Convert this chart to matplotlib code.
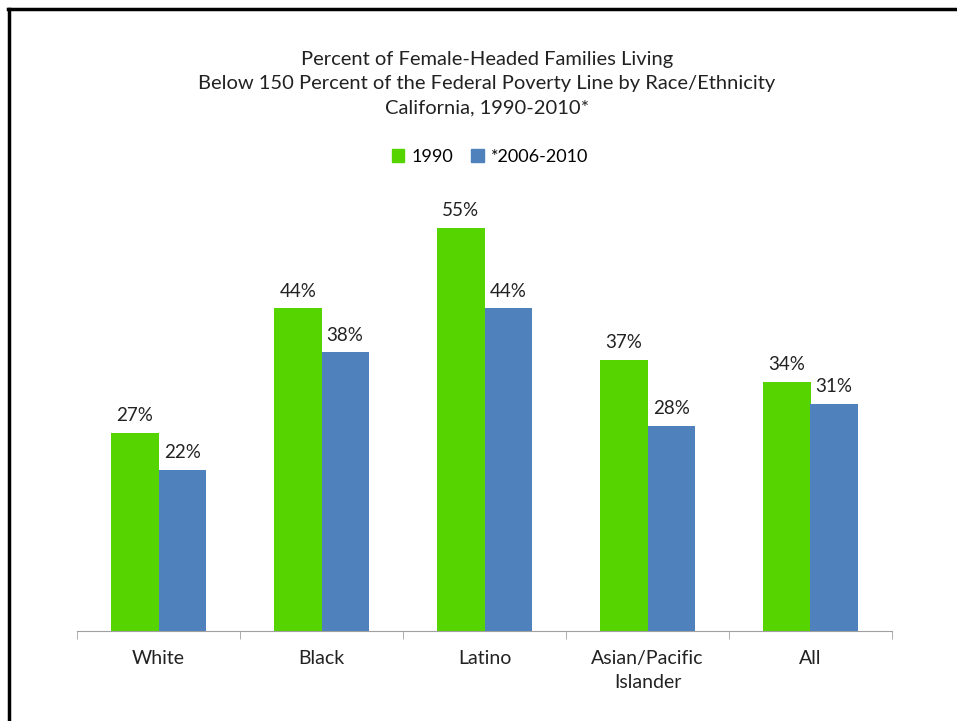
import matplotlib.pyplot as plt
import numpy as np
from matplotlib.lines import Line2D
from matplotlib.patches import Patch

# date
categories = ['White', 'Black', 'Latino', 'Asian/Pacific\nIslander', 'All']
values_1990 = [27, 44, 55, 37, 34]
values_2010 = [22, 38, 44, 28, 31]
series_names = ['1990', '*2006-2010']

green = '#55d400'
blue = '#4f81bd'
plt.rcParams['font.family'] = ['Lato', 'DejaVu Sans']

fig = plt.figure(figsize=(9.57, 7.21), dpi=100)
ax = fig.add_axes([77 / 957, 1 - 631 / 721, 815 / 957, 440 / 721])

x = np.arange(len(categories))
w = 0.29
ax.bar(x - w / 2, values_1990, w, color=green)
ax.bar(x + w / 2, values_2010, w, color=blue)

for xi, v in zip(x, values_1990):
    ax.text(xi - w / 2, v + 1.2, f'{v}%', ha='center', va='bottom', fontsize=13.5, color='#222222')
for xi, v in zip(x, values_2010):
    ax.text(xi + w / 2, v + 1.2, f'{v}%', ha='center', va='bottom', fontsize=13.5, color='#222222')

ax.set_xlim(-0.5, len(categories) - 0.5)
ax.set_ylim(0, 440 / 7.33)
ax.set_yticks([])
for s in ['top', 'right', 'left']:
    ax.spines[s].set_visible(False)
ax.spines['bottom'].set_color('#a0a0a0')

# tick-uri intre categorii
ax.set_xticks(np.arange(-0.5, len(categories)), minor=True)
ax.tick_params(axis='x', which='minor', length=6, color='#a0a0a0', direction='out')
ax.set_xticks(x)
ax.set_xticklabels(categories, fontsize=14, color='#222222', linespacing=1.5)
ax.tick_params(axis='x', which='major', length=0, pad=14)

fig.text(487 / 957, 1 - 84 / 721,
         'Percent of Female-Headed Families Living\n'
         'Below 150 Percent of the Federal Poverty Line by Race/Ethnicity\n'
         'California, 1990-2010*',
         ha='center', va='center', fontsize=14.5, color='#222222', linespacing=1.5)

handles = [Patch(color=green), Patch(color=blue)]
fig.legend(handles, series_names, loc='center', bbox_to_anchor=(490 / 957, 1 - 157 / 721),
           ncol=2, frameon=False, fontsize=13, handlelength=0.7, handleheight=0.7,
           handletextpad=0.4, columnspacing=1.0)

# chenar negru sus si stanga
fig.add_artist(Line2D([9 / 957, 9 / 957], [0, 1 - 9 / 721], color='black', lw=2.5, transform=fig.transFigure))
fig.add_artist(Line2D([8 / 957, 1], [1 - 9 / 721, 1 - 9 / 721], color='black', lw=2.5, transform=fig.transFigure))

fig.savefig('out.png', dpi=100)
